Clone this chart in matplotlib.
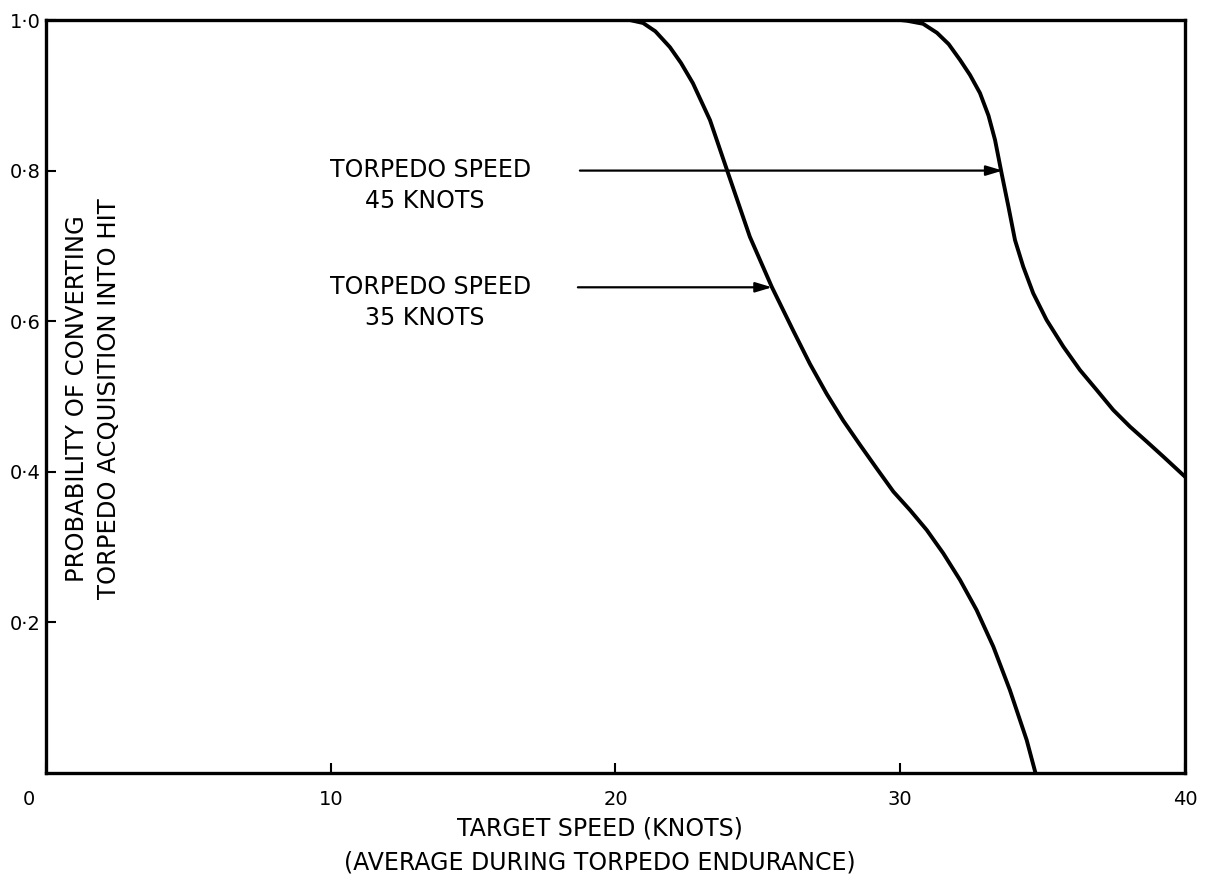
import matplotlib
matplotlib.use("Agg")
import matplotlib.pyplot as plt
import matplotlib.transforms as mtransforms

# Data
speed_35_x = [0, 20.5, 20.97, 21.4, 21.91, 22.3, 22.72, 23.32, 23.95, 24.72, 25.49,
              26.24, 26.83, 27.42, 28.00, 28.59, 29.17, 29.76, 30.34, 30.93, 31.51,
              32.10, 32.68, 33.27, 33.85, 34.44, 34.75]
speed_35_y = [1.0, 1.0, 0.996, 0.985, 0.964, 0.943, 0.916, 0.867, 0.797, 0.712, 0.6455,
              0.5876, 0.5432, 0.5033, 0.4679, 0.4356, 0.4046, 0.3736, 0.3493, 0.3227, 0.2918,
              0.2563, 0.2165, 0.1677, 0.1102, 0.0438, 0.0]

speed_45_x = [0, 30.0, 30.24, 30.8, 31.29, 31.7, 32.1, 32.45, 32.8, 33.1, 33.33, 33.56,
              33.80, 34.03, 34.32, 34.67, 35.14, 35.73, 36.31, 36.90, 37.48, 38.07,
              38.66, 39.24, 40.0]
speed_45_y = [1.0, 1.0, 0.999, 0.995, 0.983, 0.968, 0.947, 0.927, 0.903, 0.873, 0.8406, 0.7964,
              0.7521, 0.7078, 0.6724, 0.6371, 0.6016, 0.5661, 0.5352, 0.5086, 0.4821, 0.4599,
              0.4400, 0.4201, 0.3935]

x_ticks = [0, 10, 20, 30, 40]
x_tick_labels = ["0", "10", "20", "30", "40"]
y_ticks = [0.2, 0.4, 0.6, 0.8, 1.0]
y_tick_labels = ["0·2", "0·4", "0·6", "0·8", "1·0"]

label_45 = ("TORPEDO SPEED", "45 KNOTS")
label_35 = ("TORPEDO SPEED", "35 KNOTS")
arrow_45 = (18.75, 33.6, 0.8)
arrow_35 = (18.68, 25.5, 0.645)

plt.rcParams['font.family'] = ['DejaVu Sans']

fig = plt.figure(figsize=(12.13, 8.85), dpi=100)
ax = fig.add_axes([0.0379, 0.1266, 0.9390, 0.8508])

ax.plot(speed_35_x, speed_35_y, color='black', lw=2.8, solid_joinstyle='round')
ax.plot(speed_45_x, speed_45_y, color='black', lw=2.8, solid_joinstyle='round')

ax.set_xlim(0, 40)
ax.set_ylim(0, 1.0)

for s in ax.spines.values():
    s.set_linewidth(2.4)

ax.set_xticks(x_ticks)
ax.set_xticklabels(x_tick_labels)
ax.set_yticks(y_ticks)
ax.set_yticklabels(y_tick_labels)
ax.tick_params(direction='in', length=7, width=1.5, labelsize=14, pad=12)
ax.tick_params(axis='y', pad=4)

# shift the "0" x label left like the reference
lbls = ax.get_xticklabels()
off = mtransforms.ScaledTranslation(-17 / 100, 0, fig.dpi_scale_trans)
lbls[0].set_transform(lbls[0].get_transform() + off)

ax.set_xlabel("TARGET SPEED (KNOTS)\n(AVERAGE DURING TORPEDO ENDURANCE)",
              fontsize=17, linespacing=1.5)
ax.xaxis.set_label_coords(0.486, -0.058)

ax.text(0.027, 0.497, "PROBABILITY OF CONVERTING", transform=ax.transAxes,
        rotation=90, ha='center', va='center', fontsize=17.5)
ax.text(0.055, 0.497, "TORPEDO ACQUISITION INTO HIT", transform=ax.transAxes,
        rotation=90, ha='center', va='center', fontsize=17.5)

for (l1, l2), (x0, x1, yv) in [(label_45, arrow_45), (label_35, arrow_35)]:
    ax.text(9.97, yv + 0.001, l1, fontsize=17, ha='left', va='center')
    ax.text(11.2, yv - 0.041, l2, fontsize=17, ha='left', va='center')
    ax.annotate('', xy=(x1, yv), xytext=(x0, yv),
                arrowprops=dict(arrowstyle='-|>,head_length=1.0,head_width=0.3',
                                color='black', lw=1.6, shrinkA=0, shrinkB=0))

fig.savefig("out.png", dpi=100)
